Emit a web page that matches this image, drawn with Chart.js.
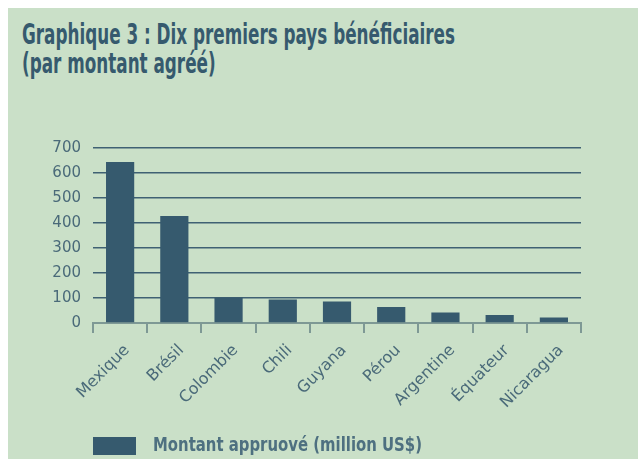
<!DOCTYPE html>
<html>
<head>
<meta charset="utf-8">
<script src="https://cdn.jsdelivr.net/npm/chart.js@4"></script>
<style>
  html, body { margin: 0; padding: 0; background: #ffffff; overflow: hidden; }
  #panel { position: absolute; left: 8px; top: 8px; width: 630px; height: 451px; background: #cae0c8; }
  #title {
    position: absolute; left: 22px; top: 20px; margin: 0;
    font-family: "DejaVu Sans Condensed", sans-serif;
    font-weight: bold; font-size: 28px; line-height: 29px; color: #365a6e;
    transform-origin: 0 0; white-space: nowrap;
  }
  #title span { display: block; }
  #legend { position: absolute; left: 93px; top: 437px; height: 18px; }
  #legend .box { position: absolute; left: 0; top: 0; width: 43px; height: 18px; }
  #legend .txt {
    position: absolute; left: 60px; top: -5px; white-space: nowrap;
    font-family: "DejaVu Sans Condensed", sans-serif; font-weight: bold; font-size: 20px; color: #4e7080;
    transform-origin: 0 0;
  }
  #chart { position: absolute; left: 0; top: 0; }
</style>
</head>
<body>
<div id="panel"></div>
<h1 id="title"><span id="t1">Graphique 3 : Dix premiers pays bénéficiaires</span><span>(par montant agréé)</span></h1>
<canvas id="chart" width="638" height="459"></canvas>
<div id="legend"><span class="box"></span><span class="txt"></span></div>
<script>
const categories = ['Mexique', 'Brésil', 'Colombie', 'Chili', 'Guyana', 'Pérou', 'Argentine', 'Équateur', 'Nicaragua'];
const amounts = [644, 428, 102, 94, 86, 64, 42, 32, 22];
const seriesName = 'Montant appruové (million US$)';
const yMax = 700;
const yStep = 100;

const barColor = '#365a6e';
const gridColor = '#3f6173';
const axisColor = '#7e9995';
const labelColor = '#4a6a79';

// squeeze the condensed headings to the widths of the original
function fitWidth(el, target) {
  const w = el.getBoundingClientRect().width;
  el.style.transform = 'scaleX(' + (target / w) + ')';
}
const title = document.getElementById('title');
fitWidth(title, 433 * title.getBoundingClientRect().width / document.getElementById('t1').getBoundingClientRect().width);

const legendTxt = document.querySelector('#legend .txt');
document.querySelector('#legend .box').style.background = barColor;
legendTxt.textContent = seriesName;
fitWidth(legendTxt, 269);

const ctx = document.getElementById('chart').getContext('2d');
const chart = new Chart(ctx, {
  type: 'bar',
  data: {
    labels: categories,
    datasets: [{
      label: seriesName,
      data: amounts,
      backgroundColor: barColor,
      barPercentage: 0.52,
      categoryPercentage: 1
    }]
  },
  options: {
    responsive: false,
    animation: false,
    layout: { padding: { top: 148, right: 57, left: 0, bottom: 0 } },
    plugins: {
      legend: { display: false },
      title: { display: false },
      tooltip: { enabled: false }
    },
    scales: {
      x: {
        afterFit: (scale) => { scale.height = 136; },
        border: { display: true, color: axisColor, width: 2 },
        grid: { drawOnChartArea: false, drawTicks: true, tickLength: 10, color: axisColor, lineWidth: 2, offset: true },
        ticks: {
          color: labelColor,
          font: { family: 'DejaVu Sans', size: 16 },
          minRotation: 45, maxRotation: 45,
          labelOffset: 7,
          padding: 8
        }
      },
      y: {
        min: 0, max: yMax,
        afterFit: (scale) => { scale.width = 93; },
        border: { display: false },
        grid: {
          drawTicks: false,
          color: (c) => c.tick && c.tick.value === 0 ? 'rgba(0,0,0,0)' : gridColor,
          lineWidth: 1.5
        },
        ticks: {
          stepSize: yStep,
          autoSkip: false,
          color: labelColor,
          font: { family: 'DejaVu Sans', size: 15 },
          padding: 12
        }
      }
    }
  }
});
</script>
</body>
</html>
